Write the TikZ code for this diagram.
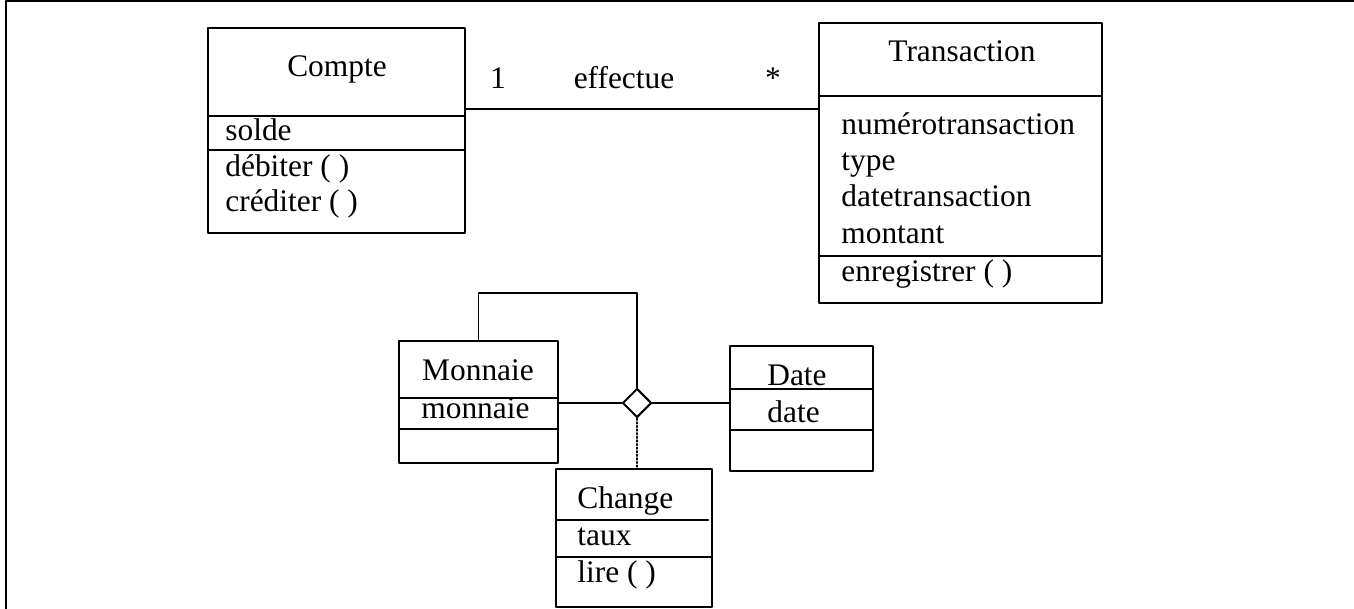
\documentclass[tikz,border=0pt]{standalone}
\usepackage{fontspec}
\setmainfont{Liberation Serif}
\usetikzlibrary{shapes.geometric}

\begin{document}
\begin{tikzpicture}[x=0.5pt, y=-0.5pt, line cap=round, line join=round,
  classe/.style={draw, line width=1pt, inner sep=0pt},
  txt/.style={inner sep=0pt, anchor=base west, font=\fontsize{15.7}{18}\selectfont},
  titre/.style={txt, anchor=base},
  losange/.style={draw, diamond, aspect=1, inner sep=0pt, minimum size=14.5pt, line width=1pt}]
  % --- Cadre (coordonnées en pixels) ---
  \useasboundingbox (0,0) rectangle (1354,609);
  \draw[line width=1pt] (6,609) -- (6,1) -- (1354,1);

  % --- Classes ---
  \node[classe, minimum width=128.5pt, minimum height=102.5pt] (compte) at (336.5,130.5) {};
  \node[classe, minimum width=141.5pt, minimum height=140pt] (transaction) at (960.5,163) {};
  \node[classe, minimum width=79.5pt, minimum height=61pt] (monnaie) at (478.5,402) {};
  \node[classe, minimum width=71.5pt, minimum height=62.5pt] (date) at (801.5,408.5) {};
  \node[classe, minimum width=78pt, minimum height=69pt] (change) at (634,538) {};

  % --- Séparateurs des compartiments ---
  \foreach \xa/\xb/\y in {208/465/116, 208/465/150, 819/1102/96, 819/1102/256,
                          399/558/398, 399/558/429, 730/873/389, 730/873/430,
                          556/708/520, 556/712/557}
    \draw[line width=1pt] (\xa,\y) -- (\xb,\y);

  % --- Textes : Compte ---
  \node[titre] (tcompte) at (337,77) {Compte};
  \node[txt] (solde) at (225,141) {solde};
  \node[txt] (debiter) at (225,177) {débiter ( )};
  \node[txt] (crediter) at (225,212) {créditer ( )};

  % --- Textes : Transaction ---
  \node[titre] (ttransaction) at (962,62) {Transaction};
  \node[txt] (numero) at (841,135) {numérotransaction};
  \node[txt] (type) at (841,171) {type};
  \node[txt] (datetr) at (841,207) {datetransaction};
  \node[txt] (montant) at (841,244) {montant};
  \node[txt] (enreg) at (841,281) {enregistrer ( )};

  % --- Textes : Monnaie, Date, Change ---
  \node[titre] (tmonnaie) at (478,380) {Monnaie};
  \node[txt] (monn) at (421,418) {monnaie};
  \node[titre] (tdate) at (797,385) {Date};
  \node[txt] (dat) at (767,422) {date};
  \node[txt] (tchange) at (577,508) {Change};
  \node[txt] (taux) at (577,545) {taux};
  \node[txt] (lire) at (577,582) {lire ( )};

  % --- Association effectue ---
  \coordinate (effA) at (465,109);
  \draw[line width=0.8pt] (compte.east |- effA) -- (transaction.west |- effA);
  \node[titre] (mult1) at (498,89) {1};
  \node[titre] (nomassoc) at (624,89) {effectue};
  \node[titre] (multN) at (773,89) {*};

  % --- Association n-aire (losange) ---
  \node[losange] (los) at (637,403) {};
  \draw[line width=0.8pt] (monnaie.east |- los) -- (los.west);
  \draw[line width=0.8pt] (los.east) -- (date.west |- los);
  \coordinate (coude) at (637,293);
  \draw[line width=0.8pt] (monnaie.north) |- (coude) -- (los.north);
  \draw[line width=0.8pt, densely dotted] (los.south) -- (los.south |- change.north);
\end{tikzpicture}
\end{document}
